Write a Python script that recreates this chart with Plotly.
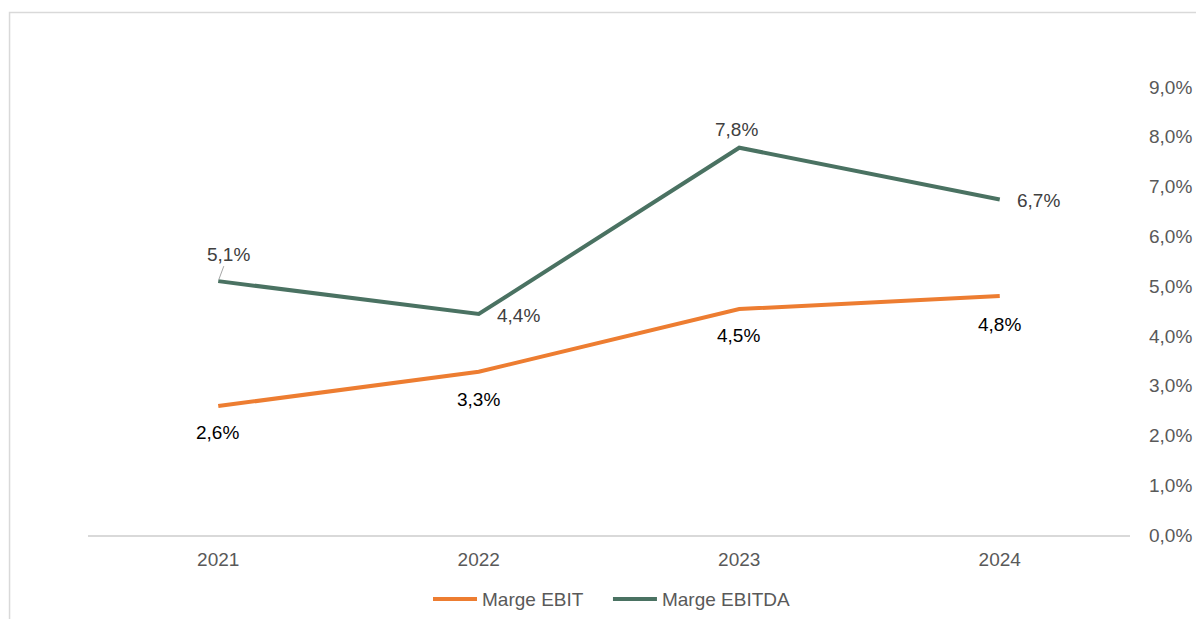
import plotly.graph_objects as go

years = ["2021", "2022", "2023", "2024"]
marge_ebit = [2.59, 3.28, 4.54, 4.80]
marge_ebitda = [5.10, 4.44, 7.78, 6.74]
y_ticks = [0, 1, 2, 3, 4, 5, 6, 7, 8, 9]

ORANGE = "#ED7D31"
GREEN = "#4A7262"
FONT = "Liberation Sans, Arial, sans-serif"

def pct(v):
    return f"{v:.1f}".replace(".", ",") + "%"

fig = go.Figure()
fig.add_trace(go.Scatter(x=years, y=marge_ebit, mode="lines", name="Marge EBIT",
                         line=dict(color=ORANGE, width=4), legend="legend"))
fig.add_trace(go.Scatter(x=years, y=marge_ebitda, mode="lines", name="Marge EBITDA",
                         line=dict(color=GREEN, width=4), legend="legend2"))

# label offsets (pixels) per point
ebit_shift = [(-1, -26), (0, -28), (-1, -26), (0, -28)]
ebitda_shift = [(10, 27), (40, -2), (-3, 18), (39, -1)]

annotations = []
for i, (v, (dx, dy)) in enumerate(zip(marge_ebit, ebit_shift)):
    annotations.append(dict(x=i, y=v, xref="x", yref="y", text=pct(v), showarrow=False,
                            xshift=dx, yshift=dy,
                            font=dict(family=FONT, size=19, color="#000000")))
for i, (v, (dx, dy)) in enumerate(zip(marge_ebitda, ebitda_shift)):
    if i == 0:
        annotations.append(dict(x=i, y=v, xref="x", yref="y", text=pct(v), showarrow=True,
                                ax=dx, ay=-dy, arrowhead=0, arrowwidth=1,
                                arrowcolor="#A6A6A6", standoff=2,
                                font=dict(family=FONT, size=19, color="#404040")))
    else:
        annotations.append(dict(x=i, y=v, xref="x", yref="y", text=pct(v), showarrow=False,
                                xshift=dx, yshift=dy,
                                font=dict(family=FONT, size=19, color="#404040")))

legend_style = dict(orientation="h", xanchor="left", y=-0.143, yanchor="middle",
                    itemwidth=44,
                    font=dict(family=FONT, size=19, color="#595959"),
                    bgcolor="rgba(0,0,0,0)")

fig.update_layout(
    width=1196, height=611,
    margin=dict(l=80, r=74, t=79, b=84, autoexpand=False),
    paper_bgcolor="white", plot_bgcolor="white",
    font=dict(family=FONT, size=19, color="#595959"),
    showlegend=True,
    legend=dict(x=0.3263, **legend_style),
    legend2=dict(x=0.499, **legend_style),
    xaxis=dict(type="category", range=[-0.5, 3.5], showline=True, linecolor="#D9D9D9",
               linewidth=1.5, showgrid=False, zeroline=False, ticks="",
               tickfont=dict(family=FONT, size=19, color="#595959"), ticklabelstandoff=6,
               fixedrange=True),
    yaxis=dict(side="right", range=[0, 9], tickmode="array", tickvals=y_ticks,
               ticktext=[pct(t) for t in y_ticks],
               showline=False, showgrid=False, zeroline=False, ticks="",
               tickfont=dict(family=FONT, size=19, color="#595959"), ticklabelstandoff=18,
               fixedrange=True),
    annotations=annotations,
    shapes=[dict(type="rect", xref="paper", yref="paper",
                 x0=-0.0753, x1=1.09, y0=-0.22, y1=1.1663,
                 line=dict(color="#D9D9D9", width=1.5), fillcolor="rgba(0,0,0,0)", layer="below")],
)

fig.write_html("out.html", config={"displayModeBar": False})
